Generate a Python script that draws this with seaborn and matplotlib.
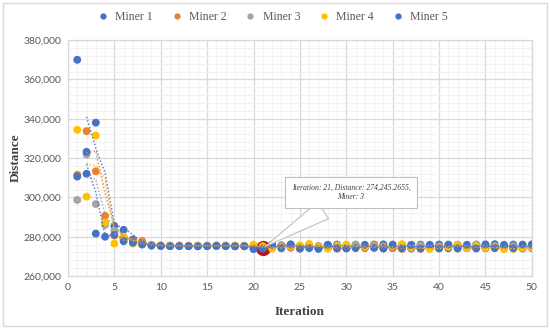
import matplotlib
matplotlib.use("Agg")
import matplotlib.pyplot as plt
import matplotlib.ticker as mticker
from matplotlib.patches import Rectangle
import seaborn as sns
import pandas as pd

sns.set_theme(style="white")
plt.rcParams['font.family'] = ['Liberation Serif', 'DejaVu Serif']

iterations = list(range(1, 51))
miner1 = [370000, 312000, 338000, 287000, 285500, 283500, 278600, 276000, 275600,
          275300, 275200, 275300, 275200, 275200, 275300, 275400, 275200, 275300, 275100, 273700,
          274300, 275900, 275600, 276100, 274300, 275800, 274100, 275700, 276000, 274200,
          275900, 274300, 275800, 276100, 274200, 275900, 274000, 276000, 274300, 276000,
          274100, 275900, 274200, 276000, 274300, 276200, 274100, 276000, 274000, 276100]
miner2 = [311500, 333700, 313300, 290600, 280600, 279000, 277500, 277800, 275800,
          275500, 275400, 275400, 275300, 275300, 275400, 275300, 275400, 275200, 275300, 275100,
          274500, 274200, 275300, 274400, 273900, 275100, 274600, 274200, 273900, 274500,
          275000, 274300, 276100, 274000, 274200, 273800, 274300, 273900, 274600, 274200,
          275800, 274000, 274300, 274500, 274100, 274300, 274000, 274200, 274400, 274100]
miner3 = [298700, 321800, 296600, 286000, 283000, 278500, 277000, 276500, 275700,
          275600, 275500, 275500, 275400, 275500, 275400, 275600, 275500, 275500, 275400, 275300,
          274245.2655, 275300, 275000, 275500, 275200, 275000, 275300, 275400, 275100, 275200,
          276000, 275200, 275400, 275100, 275000, 275300, 275900, 275600, 275200, 275100,
          275300, 275200, 275500, 276000, 275400, 275300, 275100, 275200, 275600, 275400]
miner4 = [334400, 300400, 331500, 287200, 276500, 280000, 276500, 276300, 275500,
          275400, 275300, 275400, 275300, 275400, 275300, 275400, 275300, 275400, 275300, 276000,
          275200, 274000, 274600, 275200, 275600, 276300, 274500, 274000, 275500, 276000,
          274400, 275000, 274500, 274300, 275400, 276200, 274600, 274000, 273800, 274300,
          274800, 275900, 274200, 275300, 274500, 274500, 273700, 273800, 274300, 274600]
miner5 = [310600, 323200, 281600, 280000, 281000, 277700, 277000, 276200, 275500,
          275300, 275200, 275200, 275200, 275100, 275200, 275300, 275200, 275100, 275200, 273900,
          274000, 275900, 274100, 276000, 274000, 274200, 273800, 275900, 274100, 274000,
          274200, 275900, 274300, 274000, 276000, 274100, 275800, 274000, 275900, 274000,
          276000, 274100, 275900, 274000, 276100, 274200, 275900, 274100, 276000, 275800]

miners = ["Miner 1", "Miner 2", "Miner 3", "Miner 4", "Miner 5"]
colors = ["#4472C4", "#ED7D31", "#A5A5A5", "#FFC000", "#4472C4"]
highlight_iter = 21
highlight_miner = "Miner 3"

df = pd.DataFrame({"Iteration": iterations, "Miner 1": miner1, "Miner 2": miner2,
                   "Miner 3": miner3, "Miner 4": miner4, "Miner 5": miner5})
long = df.melt(id_vars="Iteration", var_name="Miner", value_name="Distance")

fig = plt.figure(figsize=(5.5, 3.29), dpi=100)
ax = fig.add_axes([0.1236, 0.161, 0.967 - 0.1236, 0.878 - 0.161])

# highlighted point (drawn underneath)
hy = df.loc[df.Iteration == highlight_iter, highlight_miner].values[0]
ax.scatter([highlight_iter], [hy], s=120, color="#B41A1A", zorder=2, linewidths=0)

sns.scatterplot(data=long, x="Iteration", y="Distance", hue="Miner", palette=colors,
                s=32, linewidth=0, ax=ax, zorder=3, legend=True)

# 2-period moving average trendlines
for m, c in zip(miners, colors):
    ma = df[m].rolling(2).mean()
    ax.plot(df.Iteration, ma, linestyle=(0, (1, 1.3)), color=c, linewidth=1.1, zorder=4, alpha=0.85)

ax.set_xlim(0, 50)
ax.set_ylim(260000, 380000)
ax.xaxis.set_major_locator(mticker.MultipleLocator(5))
ax.xaxis.set_minor_locator(mticker.MultipleLocator(1))
ax.yaxis.set_major_locator(mticker.MultipleLocator(20000))
ax.yaxis.set_minor_locator(mticker.MultipleLocator(4000))
ax.yaxis.set_major_formatter(mticker.FuncFormatter(lambda v, p: f"{int(v):,}"))
ax.grid(which="major", color="#D9D9D9", linewidth=0.9)
ax.grid(which="minor", color="#F0F0F0", linewidth=0.6)
ax.set_axisbelow(True)
for s in ax.spines.values():
    s.set_color("#D9D9D9")
    s.set_linewidth(0.9)
ax.tick_params(which="both", length=0, labelsize=7.5, colors="#595959", pad=5)
for lab in ax.get_xticklabels() + ax.get_yticklabels():
    lab.set_family(["Lato", "DejaVu Sans"])

ax.set_xlabel("Iteration", fontsize=9.5, fontweight="bold", color="#404040")
ax.set_ylabel("Distance", fontsize=9.5, fontweight="bold", color="#404040")
ax.xaxis.set_label_coords(0.5, -0.125)
ax.yaxis.set_label_coords(-0.1, 0.5)

handles, labels = ax.get_legend_handles_labels()
ax.legend(handles, labels, loc="center", bbox_to_anchor=(0.49, 0.948),
          bbox_transform=fig.transFigure, ncol=5, frameon=False, fontsize=8.5,
          handletextpad=0.05, columnspacing=1.0, markerscale=0.8,
          labelcolor="#595959")

ax.annotate(f"Iteration: {highlight_iter}, Distance: {hy:,.4f},\nMiner: 3",
            xy=(highlight_iter, hy), xytext=(30.5, 302300),
            ha="center", va="center", fontsize=5.5, style="italic", color="#404040",
            bbox=dict(boxstyle="square,pad=0.9", fc="white", ec="#BFBFBF", lw=0.8),
            arrowprops=dict(arrowstyle="wedge,tail_width=2.6,shrink_factor=0.5",
                            fc="white", ec="#BFBFBF", lw=0.8),
            zorder=6)

fig.patches.append(Rectangle((0.006, 0.01), 0.988, 0.98, transform=fig.transFigure,
                             fill=False, ec="#D9D9D9", lw=1.0))

fig.savefig("out.png", dpi=100)
